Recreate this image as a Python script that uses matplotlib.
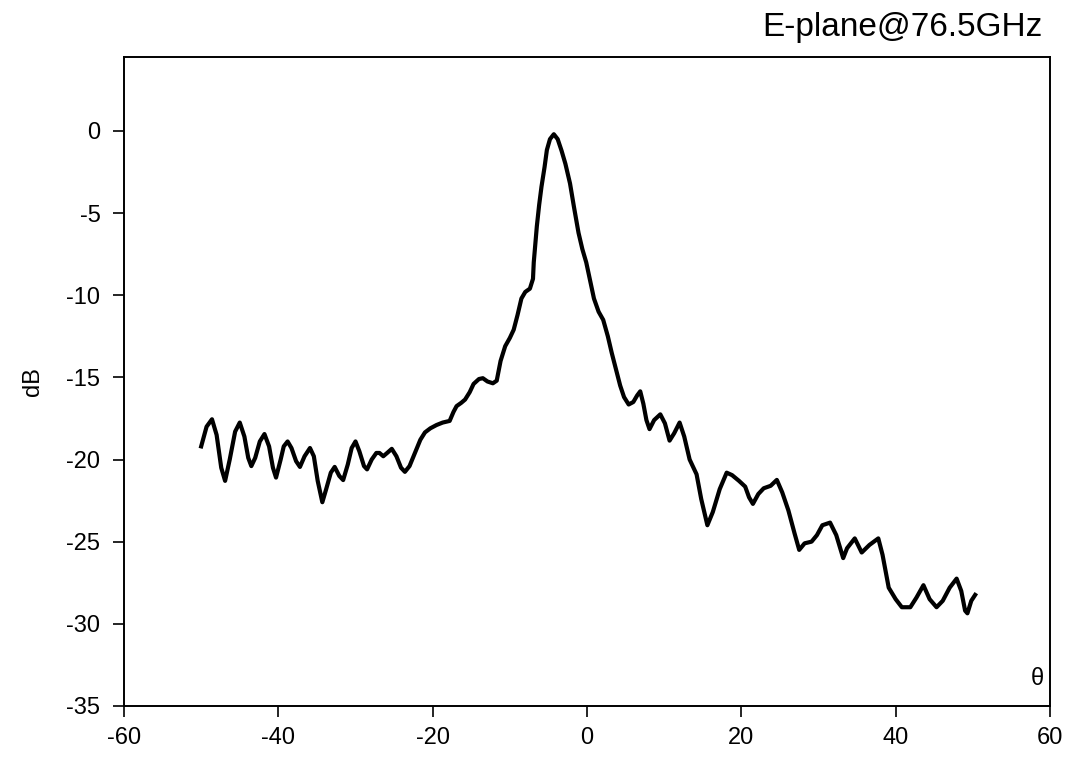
import matplotlib
matplotlib.use("Agg")
import matplotlib.pyplot as plt

theta = [-50.0, -49.3, -48.6, -48.0, -47.4, -46.9, -46.3, -45.6, -45.0, -44.4,
         -43.9, -43.5, -43.0, -42.4, -41.8, -41.2, -40.7, -40.3, -39.7, -39.3,
         -38.8, -38.3, -37.7, -37.2, -36.6, -35.9, -35.4, -34.9, -34.3, -33.8,
         -33.2, -32.7, -32.1, -31.6, -31.0, -30.5, -30.0, -29.5, -28.9, -28.5,
         -27.9, -27.3, -26.9, -26.4, -25.9, -25.3, -24.7, -24.1, -23.6, -23.0,
         -22.3, -21.6, -21.0, -20.3, -19.5, -18.7, -17.8, -17.3, -16.9, -16.3,
         -15.8, -15.2, -14.7, -14.0, -13.5, -12.9, -12.2, -11.7, -11.2, -10.6,
         -10.0, -9.5, -9.0, -8.5, -8.0, -7.4, -7.0, -6.9, -6.5, -6.2,
         -5.9, -5.5, -5.2, -4.8, -4.3, -3.8, -3.3, -2.8, -2.2, -1.7,
         -1.1, -0.6, -0.1, 0.4, 0.9, 1.5, 2.1, 2.7, 3.2, 3.8,
         4.3, 4.8, 5.4, 6.0, 6.5, 6.9, 7.3, 7.7, 8.1, 8.7,
         9.5, 10.1, 10.7, 11.3, 12.0, 12.6, 13.3, 14.2, 14.8, 15.6,
         16.3, 17.2, 18.1, 18.8, 19.7, 20.5, 21.0, 21.5, 22.2, 22.9,
         23.8, 24.6, 25.3, 26.1, 26.9, 27.5, 28.2, 29.1, 29.8, 30.5,
         31.5, 32.3, 33.2, 33.7, 34.7, 35.6, 36.6, 37.75, 38.3, 39.1,
         40.0, 40.8, 41.9, 42.7, 43.6, 44.4, 45.3, 46.1, 47.0, 47.9,
         48.5, 49.0, 49.3, 49.8, 50.3]
gain_db = [-19.2, -18.0, -17.55, -18.5, -20.5, -21.3, -20.0, -18.3, -17.75, -18.6,
           -19.9, -20.4, -19.9, -18.9, -18.45, -19.2, -20.5, -21.1, -20.0, -19.2,
           -18.9, -19.3, -20.1, -20.45, -19.8, -19.3, -19.8, -21.3, -22.6, -21.8,
           -20.8, -20.45, -21.0, -21.25, -20.3, -19.3, -18.9, -19.5, -20.4, -20.6,
           -20.0, -19.6, -19.6, -19.8, -19.6, -19.35, -19.8, -20.5, -20.75, -20.4,
           -19.6, -18.8, -18.35, -18.1, -17.9, -17.75, -17.65, -17.1, -16.75, -16.55,
           -16.35, -15.9, -15.4, -15.1, -15.05, -15.25, -15.36, -15.2, -14.0, -13.1,
           -12.6, -12.1, -11.2, -10.2, -9.8, -9.6, -9.0, -8.0, -5.8, -4.5,
           -3.4, -2.2, -1.16, -0.5, -0.2, -0.5, -1.2, -2.0, -3.2, -4.6,
           -6.2, -7.2, -8.0, -9.1, -10.2, -11.0, -11.5, -12.5, -13.5, -14.6,
           -15.5, -16.2, -16.65, -16.5, -16.1, -15.85, -16.6, -17.6, -18.15, -17.6,
           -17.25, -17.8, -18.85, -18.4, -17.75, -18.6, -20.0, -20.9, -22.4, -24.0,
           -23.2, -21.8, -20.8, -20.95, -21.3, -21.65, -22.3, -22.7, -22.1, -21.75,
           -21.6, -21.24, -22.0, -23.1, -24.5, -25.5, -25.1, -25.0, -24.6, -24.0,
           -23.84, -24.6, -26.0, -25.4, -24.8, -25.66, -25.2, -24.8, -25.8, -27.8,
           -28.5, -28.99, -28.99, -28.4, -27.65, -28.5, -28.99, -28.6, -27.8, -27.25,
           -28.0, -29.2, -29.36, -28.6, -28.24]

x_ticks = [-60, -40, -20, 0, 20, 40, 60]
y_ticks = [0, -5, -10, -15, -20, -25, -30, -35]
title = "E-plane@76.5GHz"

plt.rcParams['font.family'] = ['Liberation Sans', 'DejaVu Sans']

fig = plt.figure(figsize=(10.7, 7.6), dpi=100)
ax = fig.add_axes([0.1159, 0.0711, 0.8654, 0.8539])
ax.plot(theta, gain_db, color='black', linewidth=3.0, solid_joinstyle='round')
ax.set_xlim(-60, 60)
ax.set_ylim(-35, 4.5)
ax.set_xticks(x_ticks)
ax.set_yticks(y_ticks)
ax.set_xticklabels([str(v) for v in x_ticks])
ax.set_yticklabels([str(v) for v in y_ticks])
ax.tick_params(direction='out', length=8, width=1.2, labelsize=17,
               top=False, right=False)
ax.tick_params(axis='y', pad=9)
ax.tick_params(axis='x', pad=7)
for s in ax.spines.values():
    s.set_linewidth(1.4)
ax.set_ylabel('dB', fontsize=17, labelpad=16)
ax.text(0.993, 0.025, 'θ', transform=ax.transAxes, ha='right', va='bottom', fontsize=17)
fig.text(0.974, 0.953, title, ha='right', va='baseline', fontsize=24)

fig.savefig('out.png', dpi=100)
